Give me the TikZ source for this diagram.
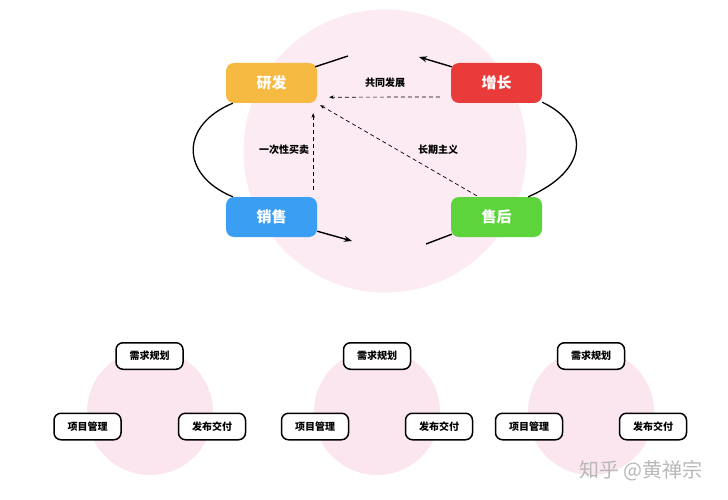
\documentclass[tikz,border=0pt]{standalone}
\usepackage{fontspec}
\setmainfont{Noto Sans CJK SC}
\usetikzlibrary{arrows.meta,calc}
\definecolor{pinkbg}{HTML}{FCEBF3}
\definecolor{pinksm}{HTML}{FBE6EF}
\definecolor{cyel}{HTML}{F6B942}
\definecolor{cred}{HTML}{EA3B3B}
\definecolor{cblue}{HTML}{3A9FF3}
\definecolor{cgreen}{HTML}{5ED43C}
\tikzset{
  bigbox/.style={rounded corners=8pt, minimum width=91pt, minimum height=40pt, inner sep=0pt,
    text=white, font=\fontsize{15}{15}\selectfont\bfseries},
  smallbox/.style={draw=black, line width=1.5pt, fill=white, rounded corners=7pt,
    minimum width=67pt, minimum height=26.5pt, inner sep=0pt, font=\fontsize{10}{10}\selectfont\bfseries},
  lbl/.style={font=\fontsize{10}{10}\selectfont\bfseries, inner sep=1pt},
  solidline/.style={line width=1.4pt, black},
  solidarrow/.style={line width=1.4pt, black, -{Stealth[length=8pt,width=6pt]}},
  dasharrow/.style={line width=0.7pt, black, dash pattern=on 4pt off 3pt, -{Stealth[length=4.5pt,width=3.5pt]}},
}
\begin{document}
\begin{tikzpicture}[x=1pt,y=-1pt]
\useasboundingbox (0,0) rectangle (728,500);
\fill[white] (0,0) rectangle (728,500);
% big circle
\fill[pinkbg] (385,151) circle[radius=141.5pt];
% small circles
\fill[pinksm] (150,412) circle[radius=63pt];
\fill[pinksm] (377,412) circle[radius=63pt];
\fill[pinksm] (591,412) circle[radius=63pt];

% top boxes
\node[bigbox, fill=cyel] (rd) at (271.5,83) {研发};
\node[bigbox, fill=cred] (zz) at (496.5,83) {增长};
\node[bigbox, fill=cblue] (xs) at (271.5,217) {销售};
\node[bigbox, fill=cgreen] (sh) at (496.5,217) {售后};

% free ends
\coordinate (e1) at (348,56);
\coordinate (e2) at (419,57);
\coordinate (e3) at (352,241);
\coordinate (e4) at (426,244);

% solid connectors
\draw[solidline] ($(rd.north east)+(-2,4)$) -- (e1);
\draw[solidarrow] ($(zz.north west)+(1,4)$) -- (e2);
\draw[solidarrow] ($(xs.south east)+(0,-6)$) -- (e3);
\draw[solidline] ($(sh.south west)+(1,-3)$) -- (e4);

% arcs
\draw[line width=1.3pt] ($(rd.south west)+(7,0)$) .. controls (180,125) and (180,175) .. ($(xs.north west)+(7,0)$);
\draw[line width=1.3pt] ($(zz.south east)+(0,-1)$) .. controls (590,125) and (590,170) .. ($(sh.north east)+(-14,0)$);

% dashed arrows
\draw[dasharrow] ($(zz.west)+(-11,14)$) -- ($(rd.south east)+(12,-6)$);
\draw[dasharrow] ($(xs.north east)+(-4,-7)$) -- ($(rd.south east)+(-4,10)$);
\draw[dasharrow] ($(sh.north west)+(26,-1)$) -- ($(rd.south east)+(3,2)$);

% labels
\node[lbl] (l1) at (385,83) {共同发展};
\node[lbl] (l2) at (284,150) {一次性买卖};
\node[lbl] (l3) at (438,150) {长期主义};

% bottom groups
\node[smallbox] (a1) at (149.5,356) {需求规划};
\node[smallbox] (b1) at (87.5,426.5) {项目管理};
\node[smallbox] (c1) at (212,426.5) {发布交付};

\node[smallbox] (a2) at (377,356) {需求规划};
\node[smallbox] (b2) at (315,426.5) {项目管理};
\node[smallbox] (c2) at (439,426.5) {发布交付};

\node[smallbox] (a3) at (591,356) {需求规划};
\node[smallbox] (b3) at (529,426.5) {项目管理};
\node[smallbox] (c3) at (653,426.5) {发布交付};

% watermark
\node[text=black!28, font=\fontsize{20}{20}\selectfont, inner sep=0pt] (wm) at (641,471) {知乎 @黄禅宗};
\end{tikzpicture}
\end{document}
